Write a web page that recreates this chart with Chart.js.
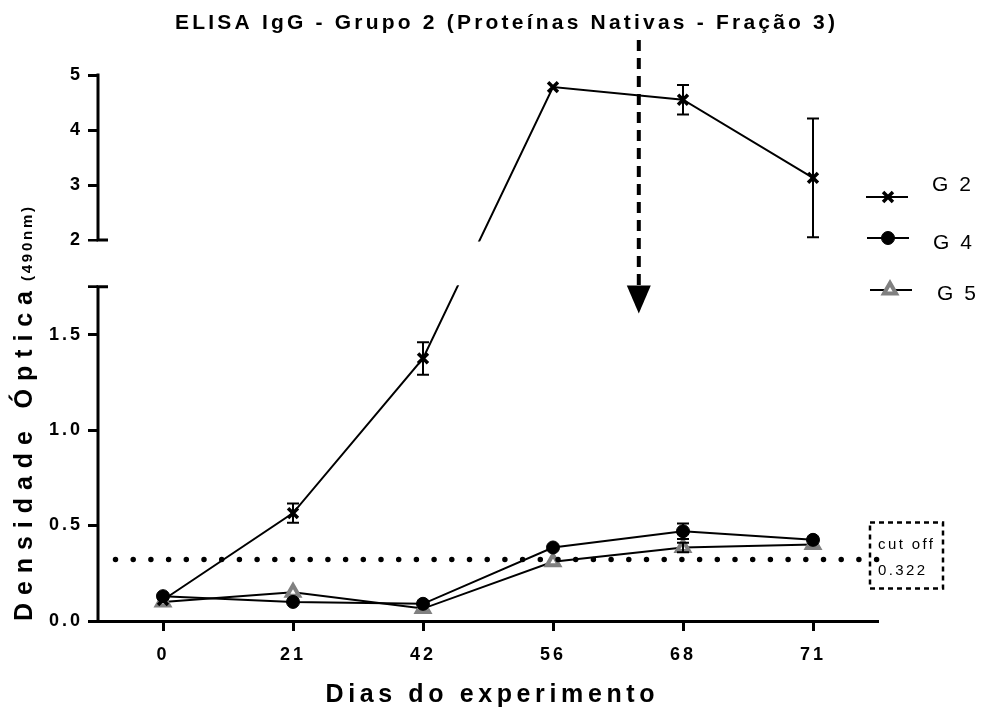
<!DOCTYPE html>
<html><head><meta charset="utf-8">
<script src="https://cdn.jsdelivr.net/npm/chart.js@4.4.1/dist/chart.umd.min.js"></script>
<style>html,body{margin:0;padding:0;background:#fff;}#wrap{width:982px;height:713px;}</style>
</head><body><div id="wrap"><canvas id="c" width="982" height="713"></canvas></div>
<script>
// ---------- data ----------
const categories = ['0', '21', '42', '56', '68', '71'];
const g2Values = [0.11, 0.565, 1.375, 4.78, 4.55, 3.13];
const g2Errors = [0.01, 0.05, 0.085, 0.02, 0.27, 1.08];
const g4Values = [0.13, 0.10, 0.09, 0.385, 0.47, 0.425];
const g4Errors = [0.01, 0.015, 0.01, 0.01, 0.04, 0.02];
const g5Values = [0.10, 0.15, 0.065, 0.31, 0.385, 0.40];
const g5Errors = [0.01, 0.015, 0.01, 0.01, 0.025, 0.015];
const seriesNames = ['G 2', 'G 4', 'G 5'];
const yTickValues = [0, 0.5, 1.0, 1.5, 1.75, 2, 3, 4, 5];
const yTickLabels = ['0.0', '0.5', '1.0', '1.5', '', '2', '3', '4', '5'];
const cutOffValue = 0.322;
const cutOffLabel = ['cut off', '0.322'];
const arrowPosition = 3.66;   // between day 56 and day 68 (category index)
const arrowTipValue = 1.61;
const titleText = 'ELISA IgG - Grupo 2 (Proteínas Nativas - Fração 3)';
const xTitleText = 'Dias do experimento';
const yTitleText = ['Densidade Óptica', '(490nm)'];

// ---------- broken axis transform ----------
const LOW_MAX = 1.75, UP_MIN = 2, GAP = 0.245, RATIO = 0.288;
function T(v) { return v <= LOW_MAX ? v : LOW_MAX + GAP + (v - UP_MIN) * RATIO; }
const Y_MAX = T(5);

const FONT = "'Liberation Sans', Arial, Helvetica, sans-serif";

function drawText(ctx, s, x, y, font, ls, align, baseline) {
  ctx.font = font;
  ctx.letterSpacing = ls + 'px';
  ctx.textBaseline = baseline || 'middle';
  ctx.textAlign = 'left';
  const w = ctx.measureText(s).width - ls;
  let sx = x;
  if (align === 'center') sx = x - w / 2;
  else if (align === 'right') sx = x - w;
  ctx.fillText(s, sx, y);
  return w;
}
function fitSpacing(ctx, s, font, target) {
  ctx.font = font; ctx.letterSpacing = '0px';
  const w0 = ctx.measureText(s).width;
  return Math.max(0, (target - w0) / (s.length - 1));
}

const datasetsStyle = [
  { pointStyle: 'crossRot', radius: 7, borderWidth: 3.5, bg: '#000', border: '#000' },
  { pointStyle: 'circle', radius: 6.5, borderWidth: 1, bg: '#000', border: '#000' },
  { pointStyle: 'triangle', radius: 7, borderWidth: 4, bg: '#fff', border: '#808080' }
];
const valuesList = [g2Values, g4Values, g5Values];
const errorsList = [g2Errors, g4Errors, g5Errors];

const decor = {
  id: 'decor',
  beforeDraw(chart) {
    const ctx = chart.ctx;
    ctx.save(); ctx.fillStyle = '#fff'; ctx.fillRect(0, 0, chart.width, chart.height); ctx.restore();
    ctx.letterSpacing = '3px';
  },
  afterDatasetsDraw(chart) {
    const ctx = chart.ctx, x = chart.scales.x, y = chart.scales.y;
    ctx.save();
    ctx.letterSpacing = '0px';
    ctx.strokeStyle = '#000'; ctx.lineWidth = 2;
    errorsList.forEach((errs, d) => {
      valuesList[d].forEach((v, i) => {
        const e = errs[i];
        const px = x.getPixelForValue(i);
        const top = y.getPixelForValue(T(v + e)), bot = y.getPixelForValue(T(v - e));
        if (Math.abs(bot - top) < 8) return;
        ctx.beginPath();
        ctx.moveTo(px, top); ctx.lineTo(px, bot);
        ctx.moveTo(px - 6, top); ctx.lineTo(px + 6, top);
        ctx.moveTo(px - 6, bot); ctx.lineTo(px + 6, bot);
        ctx.stroke();
      });
    });
    ctx.restore();
  },
  afterDraw(chart) {
    const ctx = chart.ctx, x = chart.scales.x, y = chart.scales.y, ca = chart.chartArea;
    ctx.save();
    ctx.letterSpacing = '0px';
    const yBreakTop = y.getPixelForValue(T(UP_MIN));
    const yBreakBot = y.getPixelForValue(LOW_MAX);
    // white out the break band
    ctx.fillStyle = '#fff';
    ctx.fillRect(ca.left - 12, yBreakTop + 1.5, ca.right - ca.left + 12, yBreakBot - yBreakTop - 3);
    // broken y axis
    ctx.strokeStyle = '#000'; ctx.lineWidth = 3; ctx.lineCap = 'butt';
    const ax = ca.left;
    ctx.beginPath();
    ctx.moveTo(ax, ca.bottom + 1.5); ctx.lineTo(ax, yBreakBot - 1.5);
    ctx.moveTo(ax, yBreakTop + 1.5); ctx.lineTo(ax, y.getPixelForValue(T(5)) - 1.5);
    ctx.moveTo(ax, yBreakBot); ctx.lineTo(ax + 10, yBreakBot);
    ctx.moveTo(ax, yBreakTop); ctx.lineTo(ax + 10, yBreakTop);
    ctx.stroke();

    // dashed arrow
    const arX = x.getPixelForValue(arrowPosition);
    const tipY = y.getPixelForValue(arrowTipValue);
    const headTop = tipY - 28;
    ctx.lineWidth = 4; ctx.setLineDash([11, 7]);
    ctx.beginPath(); ctx.moveTo(arX, ca.top - 35); ctx.lineTo(arX, headTop); ctx.stroke();
    ctx.setLineDash([]);
    ctx.fillStyle = '#000';
    ctx.beginPath(); ctx.moveTo(arX - 12, headTop); ctx.lineTo(arX + 12, headTop); ctx.lineTo(arX, tipY); ctx.closePath(); ctx.fill();

    // cut-off dotted line
    const cy = y.getPixelForValue(cutOffValue);
    ctx.lineWidth = 5.5; ctx.lineCap = 'round'; ctx.setLineDash([0, 17.7]);
    ctx.beginPath(); ctx.moveTo(ca.left + 17.5, cy); ctx.lineTo(ca.right - 1, cy); ctx.stroke();
    ctx.setLineDash([]); ctx.lineCap = 'butt';
    // cut-off box
    const bx = ca.right - 8, bw = 73, by = cy - 37, bh = 66;
    ctx.lineWidth = 2.5; ctx.setLineDash([5, 4]);
    ctx.strokeRect(bx, by, bw, bh);
    ctx.setLineDash([]);
    ctx.fillStyle = '#000';
    drawText(ctx, cutOffLabel[0], bx + 8, by + 22, '15px ' + FONT, 2.4, 'left');
    drawText(ctx, cutOffLabel[1], bx + 8, by + 48, '15px ' + FONT, 2.4, 'left');

    // legend
    const legendRows = [
      { ly: 197, x1: 866, x2: 908, mx: 888, tx: 932, ty: 185 },
      { ly: 238, x1: 867, x2: 909, mx: 888, tx: 933, ty: 243 },
      { ly: 290, x1: 870, x2: 912, mx: 890, tx: 937, ty: 294 }
    ];
    legendRows.forEach((r, i) => {
      const st = datasetsStyle[i];
      ctx.strokeStyle = '#000'; ctx.lineWidth = 2;
      ctx.beginPath(); ctx.moveTo(r.x1, r.ly); ctx.lineTo(r.x2, r.ly); ctx.stroke();
      ctx.fillStyle = st.bg; ctx.strokeStyle = st.border; ctx.lineWidth = st.borderWidth;
      Chart.helpers.drawPoint(ctx, { pointStyle: st.pointStyle, radius: st.radius, rotation: 0, borderWidth: st.borderWidth }, r.mx, r.ly);
      ctx.fillStyle = '#000';
      drawText(ctx, seriesNames[i], r.tx, r.ty, '21px ' + FONT, 2.5, 'left');
    });

    // titles
    ctx.fillStyle = '#000';
    const tFont = 'bold 21px ' + FONT;
    drawText(ctx, titleText, 505, 23, tFont, fitSpacing(ctx, titleText, tFont, 660), 'center');
    const xFont = 'bold 25px ' + FONT;
    drawText(ctx, xTitleText, 490, 695, xFont, fitSpacing(ctx, xTitleText, xFont, 329), 'center');
    ctx.translate(32, 621);
    ctx.rotate(-Math.PI / 2);
    const yFont = 'bold 25px ' + FONT;
    const w1 = drawText(ctx, yTitleText[0], 0, 0, yFont, fitSpacing(ctx, yTitleText[0], yFont, 330), 'left', 'alphabetic');
    const y2Font = 'bold 15px ' + FONT;
    drawText(ctx, yTitleText[1], w1 + 10, 0, y2Font, fitSpacing(ctx, yTitleText[1], y2Font, 74), 'left', 'alphabetic');
    ctx.restore();
  }
};

const ds = [
  { label: seriesNames[0], data: g2Values.map(T) },
  { label: seriesNames[1], data: g4Values.map(T) },
  { label: seriesNames[2], data: g5Values.map(T) }
].map((d, i) => Object.assign(d, {
  borderColor: '#000', borderWidth: 2, tension: 0, fill: false,
  pointStyle: datasetsStyle[i].pointStyle, pointRadius: datasetsStyle[i].radius,
  pointBorderWidth: datasetsStyle[i].borderWidth,
  pointBackgroundColor: datasetsStyle[i].bg, pointBorderColor: datasetsStyle[i].border
}));

new Chart(document.getElementById('c'), {
  type: 'line',
  data: { labels: categories, datasets: ds },
  plugins: [decor],
  options: {
    responsive: false, animation: false, events: [],
    layout: { padding: { top: 75, right: 104, left: 0, bottom: 0 } },
    plugins: { legend: { display: false }, title: { display: false }, tooltip: { enabled: false } },
    scales: {
      x: {
        type: 'category', offset: true,
        afterFit: s => { s.height = 92; },
        grid: { offset: false, drawOnChartArea: false, drawTicks: true, tickLength: 10, tickWidth: 3, tickColor: '#000' },
        border: { display: true, width: 3, color: '#000' },
        ticks: { color: '#000', font: { family: FONT, size: 18, weight: 'bold' }, padding: 13, autoSkip: false, maxRotation: 0 }
      },
      y: {
        type: 'linear', min: 0, max: Y_MAX,
        afterFit: s => { s.width = 98; },
        afterBuildTicks: s => { s.ticks = yTickValues.map(v => ({ value: T(v) })); },
        grid: { drawOnChartArea: false, drawTicks: true, tickLength: 10, tickWidth: 3, tickColor: '#000' },
        border: { display: false },
        ticks: {
          color: '#000', font: { family: FONT, size: 18, weight: 'bold' }, padding: 5, autoSkip: false,
          callback: (val, i) => yTickLabels[i]
        }
      }
    }
  }
});
</script>
</body></html>
